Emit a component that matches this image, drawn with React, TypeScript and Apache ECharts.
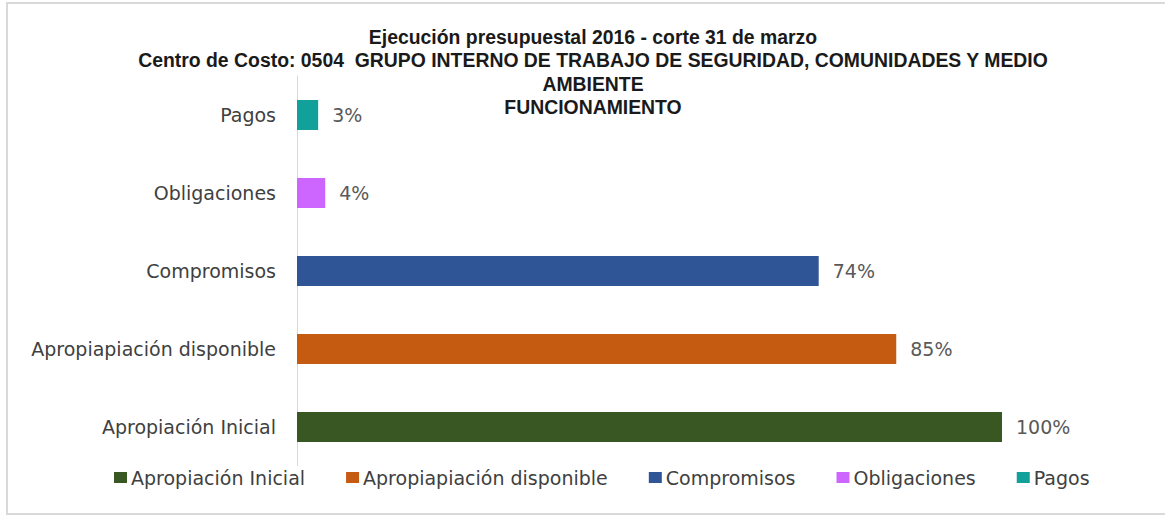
import React, { useEffect, useRef } from "react";
import * as echarts from "echarts";

const titleLines = [
  "Ejecución presupuestal 2016 - corte 31 de marzo",
  "Centro de Costo: 0504  GRUPO INTERNO DE TRABAJO DE SEGURIDAD, COMUNIDADES Y MEDIO",
  "AMBIENTE",
  "FUNCIONAMIENTO",
];

const categories = [
  "Apropiación Inicial",
  "Apropiapiación disponible",
  "Compromisos",
  "Obligaciones",
  "Pagos",
];

const values = [100, 85, 74, 4, 3];

const colors = ["#385723", "#C55A11", "#2F5597", "#CC66FF", "#11A09A"];

export default function App() {
  const ref = useRef<HTMLDivElement>(null);

  useEffect(() => {
    if (!ref.current) return;
    const chart = echarts.init(ref.current, null, { renderer: "svg" });
    const fontFamily = "'DejaVu Sans', sans-serif";

    const series = categories.map((name, i) => ({
      name,
      type: "bar",
      stack: "all",
      barWidth: 30,
      itemStyle: { color: colors[i] },
      data: categories.map((_, j) => (j === i ? values[i] : null)),
      label: {
        show: true,
        position: "right",
        distance: 14,
        formatter: "{c}%",
        color: "#595959",
        fontFamily,
        fontSize: 19,
      },
    }));

    chart.setOption({
      animation: false,
      backgroundColor: "#ffffff",
      title: {
        text: titleLines.join("\n"),
        left: 588,
        top: 20,
        textAlign: "center",
        textStyle: {
          fontFamily: "'Liberation Sans', sans-serif",
          fontWeight: "bold",
          fontSize: 19.4,
          lineHeight: 23.5,
          color: "#1a1a1a",
        },
      },
      graphic: [
        {
          type: "rect",
          shape: { x: 7, y: 3, width: 1170, height: 511 },
          style: { fill: "none", stroke: "#d9d9d9", lineWidth: 2 },
          silent: true,
        },
      ],
      legend: {
        data: categories,
        top: 463,
        left: 109,
        icon: "rect",
        itemWidth: 13,
        itemHeight: 11,
        itemGap: 41,
        textStyle: { fontFamily, fontSize: 19, color: "#404040", padding: [0, 0, 0, -1] },
      },
      grid: { left: 297, right: 163, top: 76, bottom: 51, containLabel: false },
      xAxis: {
        type: "value",
        min: 0,
        max: 100,
        show: false,
      },
      yAxis: {
        type: "category",
        data: categories,
        axisTick: { show: false },
        axisLine: { show: true, lineStyle: { color: "#d9d9d9", width: 1 } },
        axisLabel: { margin: 21, color: "#404040", fontFamily, fontSize: 19 },
      },
      series,
    });

    return () => chart.dispose();
  }, []);

  return (
    <div
      ref={ref}
      style={{ position: "fixed", left: 0, top: 0, width: 1165, height: 517 }}
    />
  );
}
